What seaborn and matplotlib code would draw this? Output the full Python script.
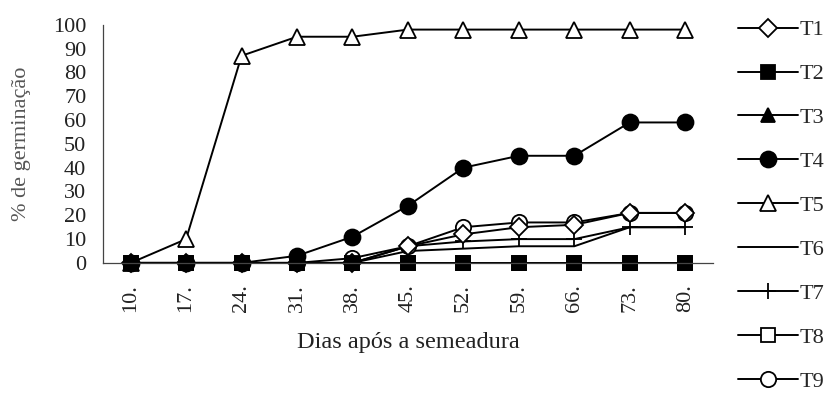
import matplotlib
matplotlib.use('Agg')
import matplotlib.pyplot as plt
import seaborn as sns
import numpy as np

days = ['10.', '17.', '24.', '31.', '38.', '45.', '52.', '59.', '66.', '73.', '80.']
t1 = [0, 0, 0, 0, 0, 7, 12, 15, 16, 21, 21]
t2 = [0, 0, 0, 0, 0, 0, 0, 0, 0, 0, 0]
t3 = [0, 0, 0, 0, 0, 0, 0, 0, 0, 0, 0]
t4 = [0, 0, 0, 3, 11, 24, 40, 45, 45, 59, 59]
t5 = [0, 10, 87, 95, 95, 98, 98, 98, 98, 98, 98]
t6 = [0, 0, 0, 0, 0, 5, 6, 7, 7, 15, 15]
t7 = [0, 0, 0, 0, 0, 7, 9, 10, 10, 15, 15]
t8 = [0, 0, 0, 0, 0, 0, 0, 0, 0, 0, 0]
t9 = [0, 0, 0, 0, 2, 7, 15, 17, 17, 21, 21]

series = [
    ('T1', t1, dict(marker='D', markersize=9.5, markerfacecolor='white')),
    ('T2', t2, dict(marker='s', markersize=10, markerfacecolor='black')),
    ('T3', t3, dict(marker='^', markersize=10, markerfacecolor='black')),
    ('T4', t4, dict(marker='o', markersize=11.5, markerfacecolor='black')),
    ('T5', t5, dict(marker='^', markersize=12, markerfacecolor='white')),
    ('T6', t6, dict(marker=None)),
    ('T7', t7, dict(marker='+', markersize=12, markeredgewidth=1.3)),
    ('T8', t8, dict(marker='s', markersize=10, markerfacecolor='white')),
    ('T9', t9, dict(marker='o', markersize=11, markerfacecolor='white')),
]

sns.set_style('white')
plt.rcParams['font.family'] = ['Liberation Serif', 'DejaVu Serif']

fig = plt.figure(figsize=(8.3, 4.07), dpi=100)
ax = fig.add_axes([0.124, 0.354, 0.735, 0.585])

x = np.arange(len(days))
# draw order so that the markers on top match the reference
draw_order = ['T8', 'T3', 'T6', 'T7', 'T9', 'T1', 'T4', 'T5', 'T2']
handles = {}
lookup = {name: (vals, kw) for name, vals, kw in series}
for name in draw_order:
    vals, kw = lookup[name]
    kw = dict(kw)
    sns.lineplot(x=x, y=vals, ax=ax, color='black', linewidth=1.4, clip_on=False,
                 markeredgecolor='black', markeredgewidth=kw.pop('markeredgewidth', 1.3), **kw)
    handles[name] = ax.lines[-1]

ax.set_xlim(-0.5, len(days) - 0.5)
ax.set_ylim(0, 100)
ax.set_yticks(range(0, 101, 10))
ax.set_xticks(x)
ax.set_xticklabels(days, rotation=90)
ax.set_xticks(np.arange(-0.5, len(days), 1), minor=True)
ax.tick_params(axis='x', which='major', length=0, labelsize=16, pad=25)
ax.tick_params(axis='x', which='minor', length=8, width=0.8, direction='inout', color='#444444')
ax.tick_params(axis='y', length=6, width=0.8, direction='out', labelsize=16, color='#444444', pad=6)
for lab in ax.get_xticklabels():
    lab.set_va('center')
for s in ['top', 'right']:
    ax.spines[s].set_visible(False)
for s in ['left', 'bottom']:
    ax.spines[s].set_color('#444444')
    ax.spines[s].set_linewidth(0.9)

ax.set_xlabel('Dias após a semeadura', fontsize=17.5, color='#222222', labelpad=15)
ax.set_ylabel('% de germinação', fontsize=16, color='#555555', labelpad=16)
for lab in ax.get_xticklabels() + ax.get_yticklabels():
    lab.set_color('#222222')

leg = fig.legend([handles[n] for n, _, _ in series], [n for n, _, _ in series],
                 loc='upper left', bbox_to_anchor=(0.878, 0.973), frameon=False,
                 fontsize=16, handlelength=2.7, handletextpad=0.1, labelspacing=1.05,
                 borderaxespad=0)

fig.savefig('out.png', dpi=100)
